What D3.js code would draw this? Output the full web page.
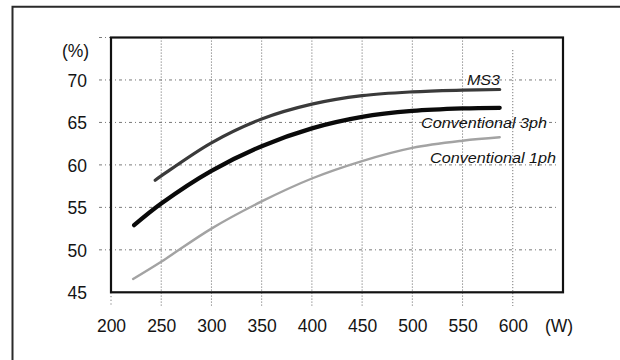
<!DOCTYPE html>
<html>
<head>
<meta charset="utf-8">
<script src="https://cdn.jsdelivr.net/npm/d3@7"></script>
<style>
  html, body { margin: 0; padding: 0; background: #fff; }
  svg { display: block; }
  text { font-family: "Liberation Sans", Arial, Helvetica, sans-serif; fill: #141414; }
</style>
</head>
<body>
<svg id="chart" width="620" height="360"></svg>
<script>
// ---- data ----
const xTicks = [200, 250, 300, 350, 400, 450, 500, 550, 600];
const yTicks = [45, 50, 55, 60, 65, 70];
const xGrid = [250, 300, 350, 400, 450, 500, 550, 600];
const yGrid = [50, 55, 60, 65, 70, 75];

const ms3W   = [244, 250, 300, 350, 400, 450, 500, 550, 587];
const ms3Eff = [58.2, 58.7, 62.6, 65.4, 67.15, 68.15, 68.6, 68.8, 68.88];

const c3W    = [223, 250, 300, 350, 400, 450, 500, 550, 587];
const c3Eff  = [52.9, 55.45, 59.3, 62.2, 64.3, 65.65, 66.35, 66.65, 66.72];

const c1W    = [222, 250, 300, 350, 400, 450, 500, 550, 587];
const c1Eff  = [46.57, 48.6, 52.5, 55.7, 58.4, 60.45, 62.0, 62.85, 63.25];

const seriesNames = ["MS3", "Conventional 3ph", "Conventional 1ph"];

// ---- layout ----
const svg = d3.select("#chart");
const x = d3.scaleLinear().domain([200, 650]).range([111, 563]);
const y = d3.scaleLinear().domain([45, 75]).range([292.3, 37.5]);

// outer frame (top and left edges of the page frame)
svg.append("path")
  .attr("d", "M12.5,360 L12.5,6.8 L620,6.8")
  .attr("fill", "none").attr("stroke", "#2a2a2a").attr("stroke-width", 2);

// gridlines
const grid = svg.append("g");
grid.selectAll("line.v").data(xGrid).join("line")
  .attr("class", "v")
  .attr("x1", d => x(d)).attr("x2", d => x(d))
  .attr("y1", d => d === 600 ? 50 : y(75)).attr("y2", 306)
  .attr("stroke", "#7a7a7a").attr("stroke-width", 1)
  .attr("stroke-dasharray", "1.2,1.8");
// short tick below axis at 200
grid.append("line")
  .attr("x1", x(200)).attr("x2", x(200)).attr("y1", y(45)).attr("y2", 306)
  .attr("stroke", "#7a7a7a").attr("stroke-dasharray", "1.2,2.5");
grid.selectAll("line.h").data(yGrid).join("line")
  .attr("class", "h")
  .attr("x1", 99).attr("x2", 559)
  .attr("y1", d => y(d)).attr("y2", d => y(d))
  .attr("stroke", "#7a7a7a").attr("stroke-width", 1)
  .attr("stroke-dasharray", "3,3,1,3");

// plot box
svg.append("rect")
  .attr("x", x(200)).attr("y", y(75))
  .attr("width", x(650) - x(200)).attr("height", y(45) - y(75))
  .attr("fill", "none").attr("stroke", "#111").attr("stroke-width", 2.2);

// axes (labels only)
const yAxis = svg.append("g")
  .attr("transform", `translate(${x(200) - 24},0)`)
  .call(d3.axisLeft(y).tickValues(yTicks).tickSize(0).tickPadding(0).tickFormat(d3.format("d")));
yAxis.select(".domain").remove();
yAxis.selectAll("text").attr("font-size", 17.5).style("font-family", null)
  .attr("fill", "#141414").attr("dy", "0.36em");

const xAxis = svg.append("g")
  .attr("transform", `translate(0,${y(45)})`)
  .call(d3.axisBottom(x).tickValues(xTicks).tickSize(0).tickPadding(0).tickFormat(d3.format("d")));
xAxis.select(".domain").remove();
xAxis.selectAll("text").attr("font-size", 17.5).style("font-family", null)
  .attr("fill", "#141414").attr("y", 33).attr("dy", "0.36em");

// unit labels
svg.append("text").attr("x", 75.5).attr("y", 51).attr("dy", "0.36em")
  .attr("text-anchor", "middle").attr("font-size", 17.5).text("(%)");
svg.append("text").attr("x", 559).attr("y", y(45) + 33).attr("dy", "0.36em")
  .attr("text-anchor", "middle").attr("font-size", 17.5).text("(W)");

// curves
const line = d3.line().x(d => x(d[0])).y(d => y(d[1])).curve(d3.curveCatmullRom.alpha(0.5));
const zip = (a, b) => a.map((v, i) => [v, b[i]]);
const series = [
  { name: seriesNames[0], pts: zip(ms3W, ms3Eff), color: "#3a3a3a", w: 3.2 },
  { name: seriesNames[1], pts: zip(c3W, c3Eff), color: "#0a0a0a", w: 4.2 },
  { name: seriesNames[2], pts: zip(c1W, c1Eff), color: "#a3a3a3", w: 2.4 }
];
svg.append("g").selectAll("path").data(series).join("path")
  .attr("d", d => line(d.pts))
  .attr("fill", "none")
  .attr("stroke", d => d.color)
  .attr("stroke-width", d => d.w)
  .attr("stroke-linecap", "round");

// curve labels
const labelPos = [
  { x: 467, y: 84.5 },
  { x: 421, y: 127.5 },
  { x: 430, y: 162.5 }
];
svg.append("g").selectAll("text").data(seriesNames).join("text")
  .attr("x", (d, i) => labelPos[i].x)
  .attr("y", (d, i) => labelPos[i].y)
  .attr("font-size", 15.5)
  .attr("font-style", "italic")
  .attr("textLength", (d, i) => [33, 126, 126][i])
  .attr("lengthAdjust", "spacingAndGlyphs")
  .text(d => d);
</script>
</body>
</html>
